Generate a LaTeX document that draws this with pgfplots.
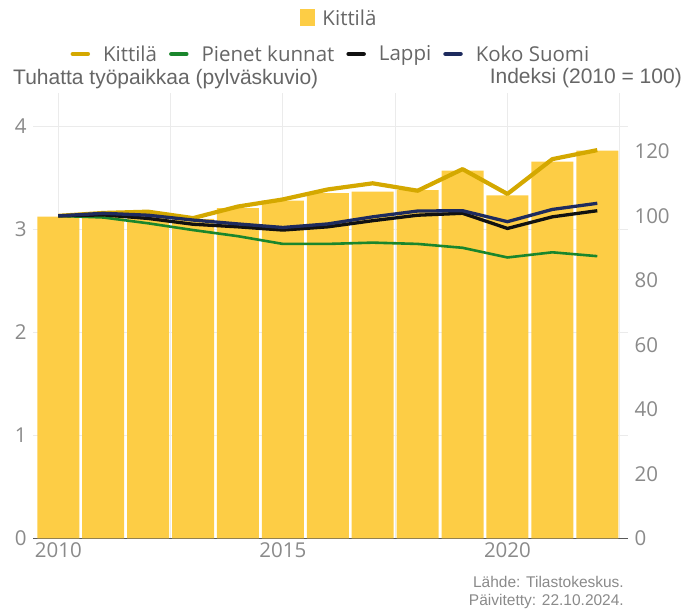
\documentclass[border=0pt]{standalone}
\usepackage{fontspec}
\setmainfont{Open Sans}
\newfontfamily\lib{Liberation Sans}
\usepackage{pgfplots}
\usepackage{pgfplotstable}
\pgfplotsset{compat=1.18}
\definecolor{barcol}{HTML}{FDCD45}
\definecolor{goldl}{HTML}{D4A800}
\definecolor{greenl}{HTML}{1A862C}
\definecolor{navyl}{HTML}{1E2B5E}
\definecolor{blackl}{HTML}{111111}
\definecolor{gridc}{HTML}{EBEBEB}
\definecolor{tickc}{HTML}{8A8A8A}
\definecolor{textc}{HTML}{666666}
\newcommand{\fs}{\fontsize{20.5bp}{24bp}\selectfont}

\pgfplotstableread{
year jobs
2010 3.122
2011 3.150
2012 3.160
2013 3.100
2014 3.204
2015 3.278
2016 3.350
2017 3.365
2018 3.380
2019 3.569
2020 3.330
2021 3.656
2022 3.763
}\bars

\pgfplotstableread{
year kittila pienet lappi suomi
2010 100.0 100.0 100.0 100.0
2011 100.9  99.5 100.3 100.8
2012 101.3  97.7  99.2 100.2
2013  99.3  95.6  97.4  98.7
2014 102.9  93.7  96.6  97.5
2015 105.1  91.3  95.6  96.4
2016 108.2  91.3  96.6  97.5
2017 110.1  91.7  98.5  99.7
2018 107.8  91.3 100.2 101.5
2019 114.5  90.1 100.8 101.6
2020 106.8  87.1  96.1  98.2
2021 117.6  88.7  99.7 102.0
2022 120.4  87.5 101.6 103.9
}\lines

\begin{document}
\begin{tikzpicture}[x=1bp,y=1bp]
\useasboundingbox (0,0) rectangle (686,612);
\begin{axis}[
  at={(33bp,73.7bp)}, anchor=south west,
  scale only axis, width=595bp, height=445bp,
  xmin=2009.437, xmax=2022.684,
  ymin=0, ymax=4.32,
  ybar, bar width=0.935,
  axis x line*=bottom, axis y line*=left,
  y axis line style={draw=none},
  x axis line style={draw=black!65, line width=1.5bp, -},
  major tick length=0pt, minor tick length=0pt,
  xtick={2010,2015,2020}, minor xtick={2012.5,2017.5,2022.5},
  ytick={0,1,2,3,4},
  grid=both,
  major grid style={gridc, line width=0.8bp},
  minor grid style={gridc, line width=0.8bp},
  /pgf/number format/assume math mode=true,
  /pgf/number format/1000 sep={},
  xticklabel style={font=\fs, text=tickc, yshift=-1bp},
  yticklabel style={font=\fs, text=tickc, xshift=-3bp},
  legend style={at={(0.5126,1.1692)}, anchor=center, draw=none, fill=none,
    font=\fs, text=textc, inner sep=0pt, nodes={inner sep=0pt},
    /tikz/every odd column/.append style={column sep=8bp}},
  legend image code/.code={\fill[barcol] (0,-8.5bp) rectangle (15bp,8.5bp);},
]
\addplot[fill=barcol, draw=none] table[x=year, y=jobs] {\bars};
\addlegendentry{Kittilä}
\end{axis}

\begin{axis}[
  at={(33bp,73.7bp)}, anchor=south west,
  scale only axis, width=595bp, height=445bp,
  xmin=2009.437, xmax=2022.684,
  ymin=0, ymax=138.02,
  hide x axis,
  axis y line*=right,
  y axis line style={draw=none},
  major tick length=0pt,
  ytick={0,20,...,120},
  /pgf/number format/assume math mode=true,
  yticklabel style={font=\fs, text=tickc, xshift=3bp},
  legend columns=-1,
  legend style={at={(0.499,1.0883)}, anchor=center, draw=none, fill=none,
    font=\fs, text=textc, inner sep=0pt, nodes={inner sep=0pt},
    /tikz/every odd column/.append style={column sep=13bp},
    /tikz/every even column/.append style={column sep=12bp}},
  legend image code/.code={\draw[#1, line width=4.5bp, line cap=round] (2bp,0) -- (17bp,0);},
]
\addplot[goldl, line width=4.2bp, line join=round, no marks] table[x=year, y=kittila] {\lines};
\addlegendentry{Kittilä}
\addplot[greenl, line width=2.6bp, line join=round, no marks] table[x=year, y=pienet] {\lines};
\addlegendentry{Pienet kunnat}
\addplot[blackl, line width=3.3bp, line join=round, no marks] table[x=year, y=lappi] {\lines};
\addlegendentry{Lappi}
\addplot[navyl, line width=3.3bp, line join=round, no marks] table[x=year, y=suomi] {\lines};
\addlegendentry{Koko Suomi}
\end{axis}

\node[anchor=base west, inner sep=0pt, text=textc, font=\lib\fontsize{21bp}{25bp}\selectfont] at (13,527) {Tuhatta työpaikkaa (pylväskuvio)};
\node[anchor=base east, inner sep=0pt, text=textc, font=\lib\fontsize{21bp}{25bp}\selectfont] at (682,528) {Indeksi (2010 = 100)};
\node[anchor=base east, inner sep=0pt, text=tickc, font=\lib\fontsize{15.5bp}{18bp}\selectfont] at (624,24) {Lähde: Tilastokeskus.};
\node[anchor=base east, inner sep=0pt, text=tickc, font=\lib\fontsize{15.5bp}{18bp}\selectfont] at (624,6.3) {Päivitetty: 22.10.2024.};
\end{tikzpicture}
\end{document}
